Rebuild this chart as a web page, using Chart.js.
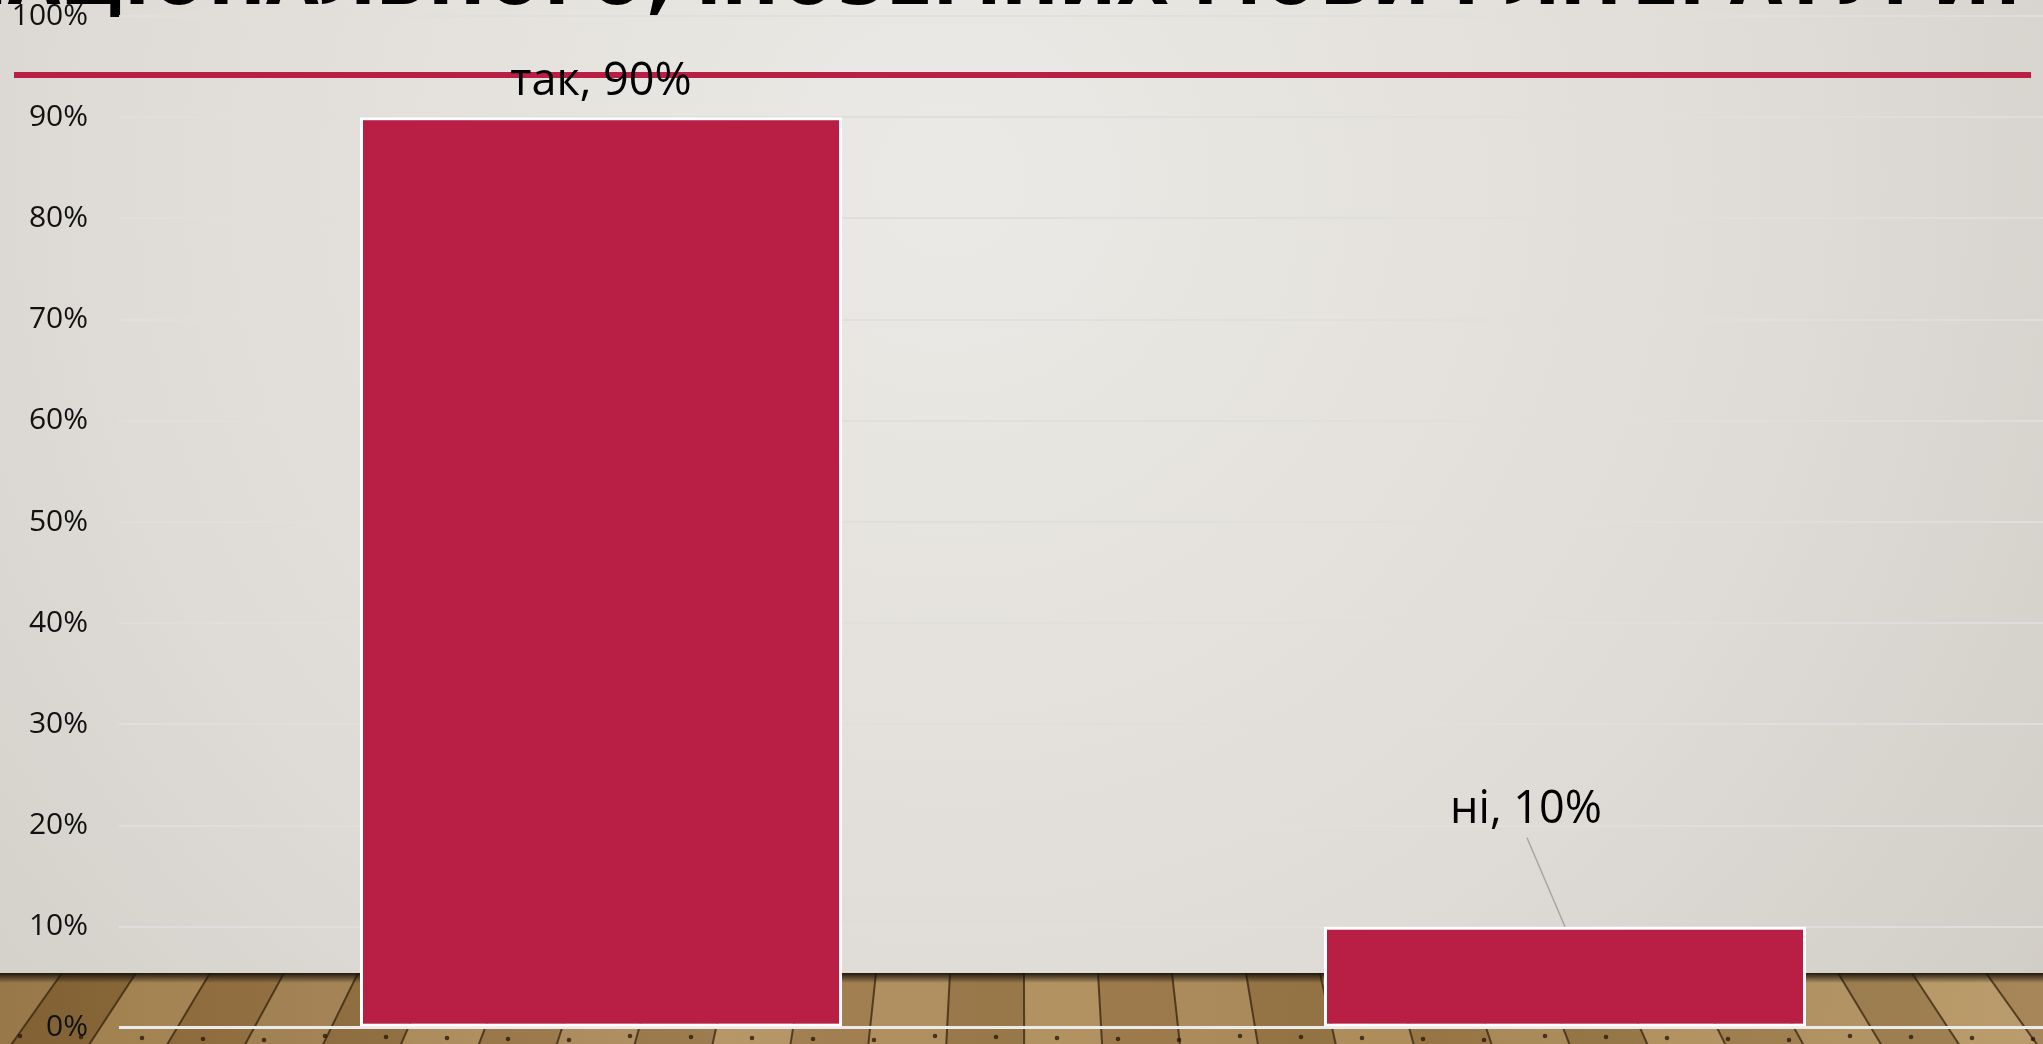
<!DOCTYPE html>
<html lang="uk">
<head>
<meta charset="utf-8">
<title>Опитування</title>
<script src="https://cdn.jsdelivr.net/npm/chart.js@4.4.1/dist/chart.umd.min.js"></script>
<style>
    html, body { margin: 0; padding: 0; overflow: hidden; background: #e2dfda; }
    canvas { display: block; }
</style>
</head>
<body>
<canvas id="surveyChart" width="2047" height="1044"></canvas>
<script>
// дані
const categories = ['так', 'ні'];
const shares = [0.9, 0.1];
const tickValues = [0, 0.1, 0.2, 0.3, 0.4, 0.5, 0.6, 0.7, 0.8, 0.9, 1];
const titleText = 'НАЦІОНАЛЬНОГО, ІНОЗЕМНИХ МОВИ І ЛІТЕРАТУРИ?';

const crimson = '#B91E44';

// фон слайда: світлий градієнт + дерев'яна підлога
function drawBackdrop(chart) {
    const ctx = chart.ctx;
    const W = chart.width, H = chart.height;
    ctx.save();

    const bg = ctx.createRadialGradient(950, 180, 50, 950, 180, 1500);
    bg.addColorStop(0, '#ebe9e5');
    bg.addColorStop(0.55, '#dfdcd7');
    bg.addColorStop(1, '#cdc9c2');
    ctx.fillStyle = bg;
    ctx.fillRect(0, 0, W, H);

    // підлога
    const floorTop = 973;
    ctx.beginPath();
    ctx.rect(0, floorTop, W, H - floorTop);
    ctx.clip();
    const wood = ctx.createLinearGradient(0, floorTop, W, H);
    wood.addColorStop(0, '#8a6838');
    wood.addColorStop(0.35, '#a88658');
    wood.addColorStop(0.7, '#9c7a48');
    wood.addColorStop(1, '#ac8d5e');
    ctx.fillStyle = wood;
    ctx.fillRect(0, floorTop, W, H - floorTop);

    const vx = 1021, vy = -380;
    const step = 74;
    const tones = ['rgba(255,235,200,0.12)', 'rgba(60,35,10,0.10)', 'rgba(255,225,180,0.18)', 'rgba(70,45,15,0.05)'];
    let i = 0;
    for (let x = -900; x < W + 900; x += step) {
        const k = (H - floorTop + 10) / (floorTop - vy);
        const xa = x + (x - vx) * k;
        const xb = x + step + (x + step - vx) * k;
        ctx.fillStyle = tones[i % tones.length];
        ctx.beginPath();
        ctx.moveTo(x, floorTop);
        ctx.lineTo(x + step, floorTop);
        ctx.lineTo(xb, H + 10);
        ctx.lineTo(xa, H + 10);
        ctx.closePath();
        ctx.fill();
        ctx.strokeStyle = 'rgba(45,28,10,0.7)';
        ctx.lineWidth = 2;
        ctx.beginPath();
        ctx.moveTo(x, floorTop);
        ctx.lineTo(xa, H + 10);
        ctx.stroke();
        i++;
    }
    // цвяхи
    ctx.fillStyle = 'rgba(35,22,8,0.75)';
    for (let x = 20; x < W; x += 61) {
        ctx.beginPath();
        ctx.arc(x, 1036 + (x % 5), 2.3, 0, Math.PI * 2);
        ctx.fill();
    }
    // тінь під краєм слайда
    const sh = ctx.createLinearGradient(0, floorTop, 0, floorTop + 10);
    sh.addColorStop(0, 'rgba(25,18,10,0.95)');
    sh.addColorStop(1, 'rgba(25,18,10,0)');
    ctx.fillStyle = sh;
    ctx.fillRect(0, floorTop, W, 10);
    ctx.restore();

    // обрізаний заголовок
    ctx.save();
    ctx.fillStyle = '#000';
    ctx.font = 'bold 84px "DejaVu Sans Condensed", "DejaVu Sans", sans-serif';
    ctx.textAlign = 'right';
    ctx.textBaseline = 'alphabetic';
    ctx.fillText(titleText, 2030, 4, 2080);
    ctx.restore();

    // червона лінія
    ctx.save();
    ctx.fillStyle = crimson;
    ctx.fillRect(14, 72, 2017, 6);
    ctx.restore();
}

const backdropPlugin = {
    id: 'backdrop',
    beforeDraw(chart) {
        drawBackdrop(chart);
    }
};

// підписи даних зі зміщенням і лінією-виноскою
const labelOffsets = [
    { dx: 0, dy: -22, leader: false },
    { dx: -39, dy: -104, leader: true }
];

const dataLabelPlugin = {
    id: 'dataLabels',
    afterDatasetsDraw(chart) {
        const ctx = chart.ctx;
        const meta = chart.getDatasetMeta(0);
        ctx.save();
        meta.data.forEach((bar, idx) => {
            const off = labelOffsets[idx];
            const text = categories[idx] + ', ' + Math.round(shares[idx] * 100) + '%';
            if (off.leader) {
                ctx.strokeStyle = '#a6a6a6';
                ctx.lineWidth = 1.5;
                ctx.beginPath();
                ctx.moveTo(bar.x + off.dx + 1, bar.y + off.dy + 15);
                ctx.lineTo(bar.x, bar.y);
                ctx.stroke();
            }
            ctx.fillStyle = '#000';
            ctx.font = '45px "Open Sans", "Noto Sans", sans-serif';
            ctx.textAlign = 'center';
            ctx.textBaseline = 'alphabetic';
            ctx.fillText(text, bar.x + off.dx, bar.y + off.dy);
        });
        ctx.restore();
    }
};

// побудова графіка
function buildChart() {
    const ctx = document.getElementById('surveyChart');
    new Chart(ctx, {
        type: 'bar',
        data: {
            labels: categories,
            datasets: [{
                data: shares,
                backgroundColor: crimson,
                borderColor: '#ffffff',
                borderWidth: 3,
                borderSkipped: false,
                barPercentage: 0.5,
                categoryPercentage: 1
            }]
        },
        options: {
            responsive: false,
            devicePixelRatio: 1,
            animation: false,
            layout: {
                padding: { top: 0, bottom: 16, left: 0, right: 0 }
            },
            plugins: {
                legend: { display: false },
                tooltip: { enabled: false },
                title: { display: false }
            },
            scales: {
                x: {
                    display: false
                },
                y: {
                    min: 0,
                    max: 1,
                    afterBuildTicks: (scale) => {
                        scale.ticks = tickValues.map(v => ({ value: v }));
                    },
                    afterFit: (scale) => {
                        scale.width = 119;
                    },
                    ticks: {
                        padding: 0,
                        color: '#111',
                        font: { family: '"Open Sans", "Noto Sans", sans-serif', size: 30, lineHeight: 1.07 },
                        callback: (value) => Math.round(value * 100) + '%'
                    },
                    grid: {
                        drawTicks: true,
                        tickLength: 31,
                        tickColor: 'rgba(0,0,0,0)',
                        color: (c) => c.tick && c.tick.value === 0 ? '#ebebeb' : 'rgba(222,222,220,0.95)',
                        lineWidth: (c) => c.tick && c.tick.value === 0 ? 3 : 2
                    },
                    border: { display: false }
                }
            }
        },
        plugins: [backdropPlugin, dataLabelPlugin]
    });
}

document.addEventListener('DOMContentLoaded', () => {
    buildChart();
});
</script>
</body>
</html>
